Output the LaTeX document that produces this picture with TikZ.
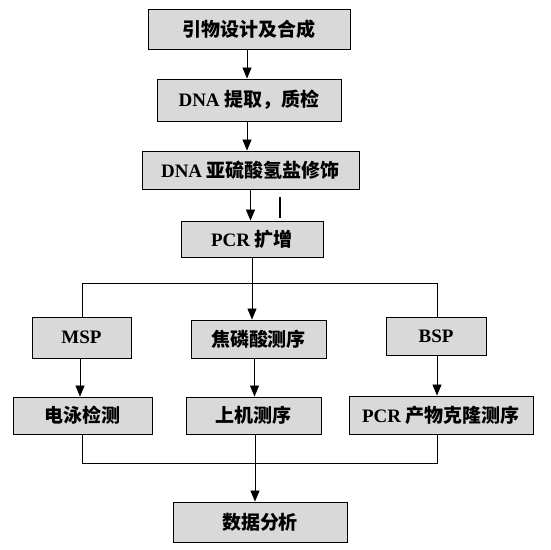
\documentclass[tikz,border=0pt]{standalone}
\usepackage{fontspec}
\setmainfont{Liberation Serif}
\newfontfamily\cjkfont{Noto Sans CJK SC}
\usetikzlibrary{arrows.meta}
\newcommand\zh[1]{{\cjkfont\bfseries #1}}
\definecolor{boxgray}{RGB}{217,217,217}
\begin{document}
\begin{tikzpicture}[x=1pt,y=-1pt,
  box/.style={draw=black,line width=0.9pt,fill=boxgray,inner sep=0pt,
    font=\fontsize{19}{21}\selectfont\bfseries},
  conn/.style={line width=0.8pt,draw=black},
  arr/.style={conn,-{Triangle[length=11pt,width=9pt]}}]
\useasboundingbox (0,0) rectangle (550,550);
\fill[white] (0,0) rectangle (550,550);
% top chain
\node[box,minimum width=202pt,minimum height=40pt] (b1) at (249,29) {\zh{引物设计及合成}};
\node[box,minimum width=184pt,minimum height=42pt] (b2) at (249,100) {DNA \zh{提取，质检}};
\node[box,minimum width=217pt,minimum height=38pt] (b3) at (250.5,170) {DNA \zh{亚硫酸氢盐修饰}};
\node[box,minimum width=142pt,minimum height=36pt] (b4) at (252,239) {PCR \zh{扩增}};
% middle row
\node[box,minimum width=99pt,minimum height=41pt] (msp) at (81.5,337.5) {MSP};
\node[box,minimum width=135pt,minimum height=38pt] (jl) at (258.5,339) {\zh{焦磷酸测序}};
\node[box,minimum width=100pt,minimum height=38pt] (bsp) at (436,336) {BSP};
% lower row
\node[box,minimum width=139pt,minimum height=37pt] (dy) at (82.5,415.5) {\zh{电泳检测}};
\node[box,minimum width=135pt,minimum height=37pt] (sj) at (253.5,415.5) {\zh{上机测序}};
\node[box,minimum width=184pt,minimum height=38pt] (pc) at (441,415) {PCR \zh{产物克隆测序}};
% final
\node[box,minimum width=174pt,minimum height=40pt] (fx) at (260,522) {\zh{数据分析}};
% connectors
\draw[arr] ([xshift=-2]b1.south) -- ([xshift=-2]b1.south |- b2.north);
\draw[arr] ([xshift=-2]b2.south) -- ([xshift=-2]b2.south |- b3.north);
\draw[arr] (b3.south) -- (b3.south |- b4.north);
\coordinate (s1) at (280,197);
\coordinate (s2) at (280,218);
\draw[line width=1.5pt] (s1) -- (s2);
\coordinate (J) at (252,283);
\coordinate (L) at (82,283);
\coordinate (R) at (437,283);
\draw[conn] (b4.south) -- (J);
\draw[arr] (J) -- (J |- jl.north);
\draw[conn] (L |- msp.north) -- (L) -- (R) -- (R |- bsp.north);
\draw[arr] ([xshift=-1.5]msp.south) -- ([xshift=-1.5]msp.south |- dy.north);
\draw[arr] ([xshift=-4]jl.south) -- ([xshift=-4]jl.south |- sj.north);
\draw[arr] ([xshift=1]bsp.south) -- ([xshift=1]bsp.south |- pc.north);
\coordinate (BL) at (83,463);
\coordinate (BM) at (255,463);
\coordinate (BR) at (437,463);
\draw[conn] (dy.south) -- (dy.south |- BL) -- (BR) -- (BR |- pc.south);
\draw[conn] ([xshift=1.5]sj.south) -- (BM);
\draw[arr] (BM) -- (BM |- fx.north);
\end{tikzpicture}
\end{document}
